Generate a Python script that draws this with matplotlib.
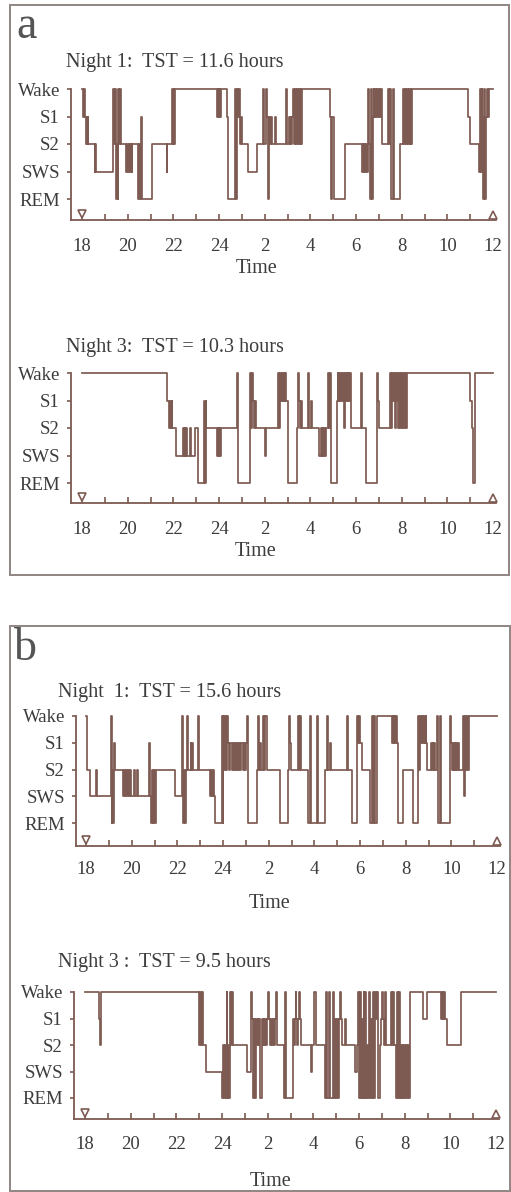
import matplotlib
matplotlib.use("Agg")
import matplotlib.pyplot as plt
from matplotlib.patches import Rectangle

# ---------------- data (clock hour continuing past 24, stage code) ----------------
# stage codes: 4 = Wake, 3 = S1, 2 = S2, 1 = SWS, 0 = REM
stage_labels = ["REM", "SWS", "S2", "S1", "Wake"]
hour_ticks = [18, 20, 22, 24, 26, 28, 30, 32, 34, 36]
hour_labels = ["18", "20", "22", "24", "2", "4", "6", "8", "10", "12"]

titles = ["Night 1:  TST = 11.6 hours", "Night 3:  TST = 10.3 hours",
          "Night  1:  TST = 15.6 hours", "Night 3 :  TST = 9.5 hours"]

hyp_a1 = [(18.00, 4), (18.06, 3), (18.09, 4), (18.13, 3), (18.17, 2), (18.20, 3), (18.23, 2), (18.26, 3),
          (18.28, 2), (18.55, 1), (18.58, 2), (18.61, 1), (19.37, 4), (19.42, 2), (19.46, 4), (19.50, 0),
          (19.53, 2), (19.56, 0), (19.59, 4), (19.63, 2), (19.66, 4), (19.70, 2), (19.93, 1), (19.97, 2),
          (20.01, 1), (20.05, 2), (20.09, 1), (20.13, 2), (20.17, 1), (20.21, 2), (20.47, 0), (20.50, 2),
          (20.53, 0), (20.57, 3), (20.61, 0), (21.05, 2), (21.71, 1), (21.74, 2), (21.93, 4), (21.97, 2),
          (22.01, 4), (22.05, 2), (22.09, 4), (23.90, 3), (23.94, 4), (23.98, 3), (24.02, 4), (24.06, 3),
          (24.10, 4), (24.34, 3), (24.40, 0), (24.72, 4), (24.76, 0), (24.80, 4), (24.84, 3), (24.88, 4),
          (24.92, 2), (24.96, 3), (25.00, 2), (25.28, 1), (25.65, 2), (25.94, 4), (25.99, 2), (26.04, 4),
          (26.09, 3), (26.14, 0), (26.20, 3), (26.24, 2), (26.28, 3), (26.33, 2), (26.45, 3), (26.49, 2),
          (26.95, 4), (26.99, 2), (27.05, 3), (27.09, 2), (27.13, 3), (27.17, 2), (27.21, 3), (27.25, 4),
          (27.29, 2), (27.33, 4), (27.37, 2), (27.41, 4), (27.45, 2), (27.49, 4), (27.53, 2), (27.57, 4),
          (27.61, 2), (27.65, 4), (28.86, 3), (28.92, 0), (28.96, 3), (29.02, 0), (29.52, 2), (30.25, 1),
          (30.29, 2), (30.33, 1), (30.37, 2), (30.41, 1), (30.45, 2), (30.49, 1), (30.53, 4), (30.57, 2),
          (30.61, 0), (30.65, 4), (30.69, 0), (30.73, 3), (30.77, 4), (30.81, 3), (30.85, 4), (30.89, 3),
          (30.93, 4), (30.97, 3), (31.01, 4), (31.05, 3), (31.09, 4), (31.13, 2), (31.42, 4), (31.46, 2),
          (31.50, 4), (31.55, 0), (31.62, 4), (31.66, 0), (31.93, 2), (32.07, 4), (32.11, 2), (32.15, 4),
          (32.19, 2), (32.23, 4), (32.27, 2), (32.31, 4), (32.35, 2), (32.39, 4), (32.43, 2), (32.47, 4),
          (34.92, 3), (34.98, 2), (35.38, 1), (35.42, 4), (35.46, 1), (35.50, 4), (35.54, 3), (35.58, 0),
          (35.62, 4), (35.66, 0), (35.70, 3), (35.74, 4), (35.78, 3), (35.82, 4), (36.00, 4)]

hyp_a3 = [(18.00, 4), (21.71, 3), (21.80, 2), (21.84, 3), (21.88, 2), (21.92, 3), (21.96, 2), (22.10, 1),
          (22.41, 2), (22.45, 1), (22.49, 2), (22.53, 1), (22.57, 2), (22.61, 1), (22.74, 2), (22.78, 1),
          (22.96, 2), (23.06, 1), (23.10, 0), (23.33, 3), (23.37, 0), (23.41, 3), (23.45, 2), (23.90, 1),
          (23.94, 2), (23.98, 1), (24.02, 2), (24.06, 1), (24.10, 2), (24.78, 4), (24.85, 0), (25.36, 4),
          (25.42, 2), (25.46, 4), (25.50, 3), (25.54, 2), (25.58, 3), (25.62, 2), (26.00, 1), (26.05, 2),
          (26.59, 4), (26.63, 2), (26.67, 4), (26.71, 3), (26.75, 4), (26.79, 3), (26.83, 4), (26.87, 3),
          (26.91, 4), (26.95, 3), (27.00, 0), (27.40, 2), (27.45, 4), (27.50, 3), (27.55, 2), (27.60, 3),
          (27.65, 2), (27.90, 4), (27.95, 2), (28.05, 3), (28.09, 2), (28.40, 1), (28.45, 2), (28.49, 1),
          (28.53, 2), (28.57, 1), (28.61, 2), (28.65, 1), (28.70, 2), (28.78, 4), (28.82, 2), (28.86, 4),
          (28.92, 0), (29.15, 3), (29.19, 4), (29.23, 3), (29.27, 4), (29.31, 3), (29.35, 4), (29.39, 3),
          (29.43, 4), (29.47, 2), (29.51, 4), (29.55, 3), (29.59, 4), (29.63, 3), (29.67, 4), (29.71, 3),
          (29.75, 4), (29.79, 2), (30.23, 4), (30.28, 2), (30.45, 0), (30.92, 4), (30.98, 3), (31.02, 2),
          (31.50, 4), (31.54, 2), (31.58, 4), (31.62, 3), (31.66, 4), (31.70, 2), (31.74, 4), (31.78, 3),
          (31.82, 4), (31.86, 2), (31.90, 4), (31.94, 2), (31.98, 4), (32.02, 2), (32.06, 4), (32.10, 2),
          (32.14, 4), (32.18, 2), (32.22, 4), (35.00, 3), (35.08, 2), (35.14, 0), (35.20, 4), (36.00, 4)]

hyp_b1 = [(18.00, 4), (18.05, 2), (18.18, 1), (18.44, 2), (18.47, 1), (19.08, 4), (19.12, 0), (19.16, 2),
          (19.20, 0), (19.24, 3), (19.28, 2), (19.64, 1), (19.68, 2), (19.72, 1), (19.76, 2), (19.80, 1),
          (19.84, 2), (19.88, 1), (19.92, 2), (19.96, 1), (20.10, 2), (20.13, 1), (20.24, 2), (20.27, 1),
          (20.76, 3), (20.80, 1), (20.86, 0), (20.90, 2), (20.94, 0), (20.98, 2), (21.02, 0), (21.06, 2),
          (21.90, 1), (22.19, 4), (22.23, 0), (22.30, 2), (22.34, 0), (22.38, 2), (22.44, 4), (22.48, 2),
          (22.58, 3), (22.62, 2), (22.66, 3), (22.70, 2), (22.92, 4), (22.96, 2), (23.43, 1), (23.47, 2),
          (23.51, 1), (23.55, 2), (23.59, 1), (23.63, 0), (23.94, 4), (23.98, 0), (24.02, 4), (24.06, 2),
          (24.10, 4), (24.14, 2), (24.18, 4), (24.23, 3), (24.27, 2), (24.31, 3), (24.38, 2), (24.42, 3),
          (24.48, 2), (24.52, 3), (24.58, 2), (24.62, 3), (24.67, 2), (24.71, 3), (24.76, 2), (24.80, 3),
          (24.89, 2), (24.93, 3), (24.97, 2), (25.01, 3), (25.05, 4), (25.08, 0), (25.48, 2), (25.55, 4),
          (25.59, 2), (25.64, 3), (25.68, 2), (25.77, 4), (25.81, 2), (25.86, 4), (25.91, 2), (26.50, 0),
          (26.86, 2), (26.90, 4), (26.94, 3), (26.98, 2), (27.30, 4), (27.34, 2), (27.38, 4), (27.42, 2),
          (27.74, 0), (27.80, 4), (27.84, 0), (28.10, 4), (28.14, 0), (28.47, 2), (28.55, 4), (28.60, 2),
          (28.69, 3), (28.73, 2), (29.45, 4), (29.49, 2), (29.64, 0), (29.86, 4), (29.90, 3), (29.94, 4),
          (29.98, 3), (30.07, 2), (30.44, 0), (30.52, 4), (30.56, 0), (30.62, 4), (30.66, 0), (30.73, 4),
          (31.39, 3), (31.43, 4), (31.47, 3), (31.51, 4), (31.55, 3), (31.59, 4), (31.63, 3), (31.68, 0),
          (31.90, 2), (32.34, 0), (32.55, 4), (32.59, 2), (32.63, 4), (32.67, 3), (32.71, 4), (32.75, 3),
          (32.79, 4), (32.83, 3), (32.87, 4), (32.91, 3), (32.95, 2), (33.10, 3), (33.14, 2), (33.18, 3),
          (33.22, 2), (33.26, 3), (33.30, 2), (33.36, 4), (33.42, 0), (33.52, 4), (33.56, 0), (33.94, 4),
          (33.98, 3), (34.02, 2), (34.06, 3), (34.10, 2), (34.14, 3), (34.18, 2), (34.22, 3), (34.26, 2),
          (34.30, 3), (34.34, 2), (34.53, 4), (34.57, 1), (34.61, 4), (34.65, 2), (34.69, 4), (34.73, 2),
          (34.77, 4), (36.00, 4)]

hyp_b3 = [(18.00, 4), (18.63, 3), (18.67, 2), (18.70, 4), (23.00, 2), (23.04, 4), (23.08, 2), (23.12, 4),
          (23.16, 2), (23.30, 1), (24.00, 0), (24.04, 2), (24.08, 0), (24.12, 2), (24.16, 0), (24.20, 4),
          (24.24, 0), (24.28, 2), (24.32, 0), (24.36, 4), (24.40, 2), (24.44, 4), (24.48, 2), (25.10, 1),
          (25.26, 4), (25.30, 3), (25.34, 0), (25.40, 3), (25.44, 0), (25.48, 3), (25.52, 2), (25.56, 3),
          (25.60, 2), (25.64, 3), (25.68, 0), (25.74, 3), (25.78, 2), (25.82, 3), (25.86, 2), (25.90, 3),
          (25.94, 2), (25.98, 3), (26.02, 4), (26.06, 3), (26.10, 2), (26.14, 3), (26.18, 2), (26.22, 3),
          (26.26, 2), (26.30, 3), (26.35, 4), (26.40, 2), (26.70, 0), (26.77, 4), (26.82, 0), (27.10, 3),
          (27.14, 2), (27.18, 3), (27.22, 4), (27.26, 3), (27.30, 2), (27.34, 3), (27.38, 4), (27.42, 3),
          (27.46, 2), (27.90, 1), (27.95, 2), (28.05, 4), (28.10, 2), (28.50, 0), (28.55, 4), (28.60, 0),
          (28.70, 4), (28.75, 0), (28.85, 4), (28.90, 0), (28.96, 3), (29.00, 0), (29.04, 3), (29.08, 0),
          (29.12, 3), (29.16, 4), (29.20, 3), (29.24, 2), (29.40, 3), (29.44, 2), (29.83, 1), (29.90, 2),
          (29.96, 4), (30.00, 0), (30.04, 4), (30.08, 0), (30.12, 3), (30.16, 0), (30.20, 4), (30.24, 0),
          (30.28, 4), (30.32, 0), (30.36, 2), (30.40, 0), (30.44, 4), (30.48, 0), (30.52, 3), (30.56, 0),
          (30.60, 4), (30.64, 0), (30.68, 3), (30.72, 4), (30.76, 3), (30.80, 4), (30.84, 0), (30.90, 2),
          (30.96, 3), (31.00, 4), (31.04, 3), (31.08, 2), (31.12, 3), (31.16, 4), (31.20, 2), (31.40, 4),
          (31.44, 2), (31.50, 4), (31.54, 2), (31.62, 0), (31.66, 4), (31.70, 0), (31.74, 4), (31.78, 0),
          (31.82, 2), (31.86, 0), (31.90, 2), (31.94, 0), (31.98, 2), (32.02, 0), (32.06, 2), (32.10, 0),
          (32.14, 2), (32.18, 0), (32.24, 4), (32.82, 3), (32.97, 4), (33.60, 3), (33.64, 4), (33.68, 3),
          (33.72, 4), (33.76, 3), (33.84, 2), (34.45, 4), (36.00, 4)]

# ---------------- figure ----------------
W, H = 511, 1192
LINE = "#7d5b52"
TEXT = "#3c3c3c"
BOX = "#8f8583"

plt.rcParams["font.family"] = ["Liberation Serif", "DejaVu Serif"]
fig = plt.figure(figsize=(W / 100, H / 100), dpi=100)


def fx(x):
    return x / W


def fy(y):
    return 1 - y / H


def hypnogram(data, yax_x, x18, x36, y_wake, y_rem, y_axis, xpad):
    ppx = (x36 - x18) / 18.0
    ppy = (y_rem - y_wake) / 4.0
    x_right = x36 + 3
    top = y_wake - 8
    ax = fig.add_axes([fx(yax_x), fy(y_axis), (x_right - yax_x) / W, (y_axis - top) / H])
    ax.patch.set_alpha(0)
    xlo = 18 - (x18 - yax_x) / ppx
    xhi = 36 + (x_right - x36) / ppx
    ylo = -(y_axis - y_rem) / ppy
    yhi = 4 + 8 / ppy
    ax.set_xlim(xlo, xhi)
    ax.set_ylim(ylo, yhi)
    t = [p[0] for p in data]
    s = [p[1] for p in data]
    ax.step(t, s, where="post", color=LINE, lw=1.25)
    # start / end markers
    ax.plot([18], [ylo + 6 / ppy], marker="v", ms=6, mfc="white", mec=LINE, mew=1.2, clip_on=False)
    ax.plot([36], [ylo + 5 / ppy], marker="^", ms=6, mfc="white", mec=LINE, mew=1.2, clip_on=False)
    for side in ("top", "right"):
        ax.spines[side].set_visible(False)
    for side in ("left", "bottom"):
        ax.spines[side].set_color(LINE)
        ax.spines[side].set_linewidth(1.3)
    ax.spines["left"].set_bounds(ylo, 4)
    ax.set_xticks(hour_ticks)
    ax.set_xticklabels(hour_labels)
    ax.set_xticks(list(range(19, 36, 2)), minor=True)
    ax.tick_params(axis="x", which="both", direction="in", length=4, width=1.2, color=LINE,
                   pad=xpad, labelsize=13.5, labelcolor=TEXT)
    ax.set_yticks([0, 1, 2, 3, 4])
    ax.set_yticklabels(stage_labels)
    ax.tick_params(axis="y", direction="out", length=3, width=1.2, color=LINE,
                   pad=5, labelsize=13.5, labelcolor=TEXT)
    return ax


hypnogram(hyp_a1, 71, 82, 493, 89, 199, 220, 13)
hypnogram(hyp_a3, 71, 82, 493, 373, 483, 503, 13)
hypnogram(hyp_b1, 76, 86, 497, 716, 823, 846, 11)
hypnogram(hyp_b3, 74, 85, 496, 992, 1098, 1119, 12.5)

# titles
for (x, y), txt in zip([(66, 62), (66, 347), (58, 692), (58, 962)], titles):
    fig.text(fx(x), fy(y), txt, ha="left", va="center", fontsize=14.5, color=TEXT)

# x-axis labels
for x, y in [(257, 268), (256, 552), (270, 903), (271, 1181)]:
    fig.text(fx(x), fy(y), "Time", ha="center", va="center", fontsize=14.5, color=TEXT)

# panel letters
fig.text(fx(16), fy(27), "a", ha="left", va="center", fontsize=33, color="#555555")
fig.text(fx(14), fy(649), "b", ha="left", va="center", fontsize=33, color="#555555")

# panel boxes
fig.patches.append(Rectangle((fx(10), fy(575)), (509 - 10) / W, (575 - 5) / H,
                             transform=fig.transFigure, fill=False, ec=BOX, lw=1.4))
fig.patches.append(Rectangle((fx(10), fy(1191)), (510 - 10) / W, (1191 - 626) / H,
                             transform=fig.transFigure, fill=False, ec=BOX, lw=1.4))

fig.savefig("out.png", dpi=100, facecolor="white")
